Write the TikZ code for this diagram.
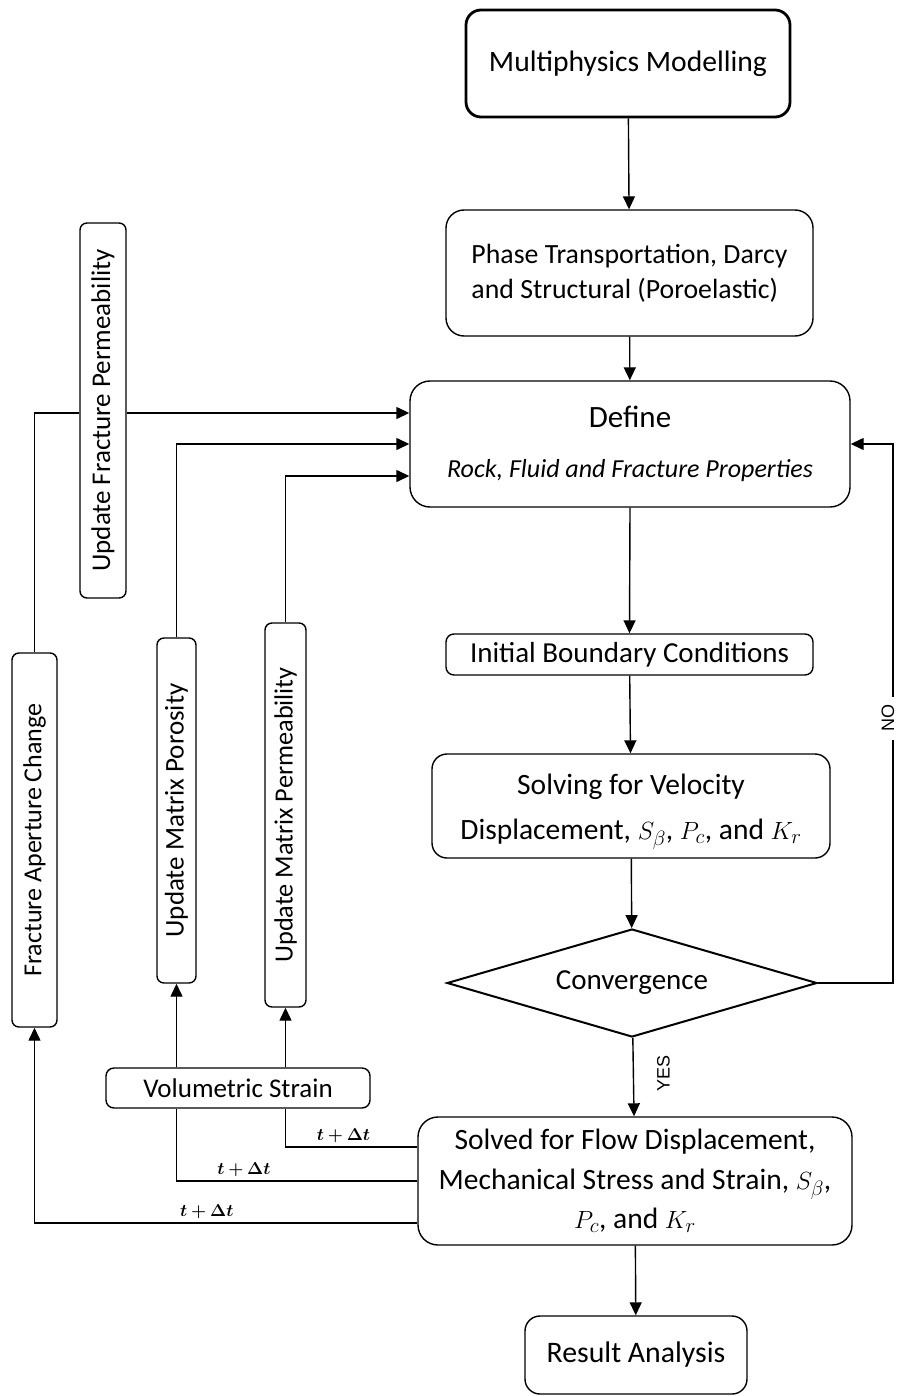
\documentclass[tikz,border=0pt]{standalone}
\usepackage{fontspec}
\setmainfont{Carlito}
\newfontfamily\arialfont{Liberation Sans}
\usepackage{bm}
\usetikzlibrary{arrows.meta,shapes.geometric,calc}
\begin{document}
\begin{tikzpicture}[x=1pt,y=-1pt,
  box/.style={draw, line width=1.4pt, align=center, inner sep=0pt, font=\fontsize{29.5}{34}\selectfont},
  vbox/.style={draw, line width=1.4pt, rounded corners=7pt, inner sep=0pt},
  vlab/.style={rotate=90, inner sep=0pt, font=\fontsize{27}{30}\selectfont},
  arr/.style={-{Triangle[length=13pt,width=12pt]}, line width=1.4pt},
  conn/.style={line width=1.4pt},
  tlab/.style={above, inner sep=4pt, font=\fontsize{18}{20}\selectfont},
  yn/.style={rotate=90, font=\arialfont\fontsize{18}{20}\selectfont}]
\useasboundingbox (0,0) rectangle (899,1396);

% main column
\node[box, line width=2.8pt, rounded corners=15pt, minimum width=324pt, minimum height=107pt, font=\fontsize{29.6}{34}\selectfont] (mm) at (628,63.5) {Multiphysics Modelling};
\node[box, rounded corners=18pt, minimum width=367pt, minimum height=126pt, align=left, font=\fontsize{27.8}{35}\selectfont] (pt) at (629.5,273) {Phase Transportation, Darcy\\and Structural (Poroelastic)};
\node[box, rounded corners=20pt, minimum width=440pt, minimum height=126pt, font=\fontsize{31}{34}\selectfont] (def) at (630,444) {Define\\[16pt]{\fontsize{26}{30}\selectfont\itshape Rock, Fluid and Fracture Properties}};
\node[box, rounded corners=8pt, minimum width=367pt, minimum height=41pt, font=\fontsize{29}{34}\selectfont] (ibc) at (629.5,654.5) {Initial Boundary Conditions};
\node[box, rounded corners=15pt, minimum width=398pt, minimum height=104pt, font=\fontsize{30}{45}\selectfont,
  label={[align=center, font=\fontsize{29.5}{45}\selectfont, yshift=-6pt]center:Solving for Velocity\\Displacement, $S_\beta$, $P_c$, and $K_r$}] (sol) at (631,806) {};
\node[draw, diamond, line width=2pt, minimum width=370pt, minimum height=108pt, aspect=3.4, inner sep=0pt, font=\fontsize{29}{34}\selectfont] (conv) at (632,983) {Convergence};
\node[box, rounded corners=20pt, minimum width=434pt, minimum height=128pt, font=\fontsize{29.5}{39.5}\selectfont] (sfd) at (635,1181) {Solved for Flow Displacement,\\Mechanical Stress and Strain, $S_\beta$,\\$P_c$, and $K_r$};
\node[box, rounded corners=15pt, minimum width=222pt, minimum height=78pt, font=\fontsize{29.8}{34}\selectfont] (ra) at (636,1355) {Result Analysis};

% left column
\node[vbox, minimum width=46pt, minimum height=375pt, label={[vlab]center:Update Fracture Permeability}] (ufp) at (103,410.5) {};
\node[vbox, minimum width=45pt, minimum height=374pt, label={[vlab, font=\fontsize{26}{30}\selectfont]center:Fracture Aperture Change}] (fac) at (34.5,840) {};
\node[vbox, minimum width=39pt, minimum height=345pt, label={[vlab]center:Update Matrix Porosity}] (ump) at (176.5,810.5) {};
\node[vbox, minimum width=41pt, minimum height=384pt, label={[vlab, font=\fontsize{26.3}{30}\selectfont]center:Update Matrix Permeability}] (umpe) at (285.5,815) {};
\node[box, rounded corners=8pt, minimum width=264pt, minimum height=40pt, font=\fontsize{27}{30}\selectfont] (vs) at (238,1088) {Volumetric Strain};

% main flow
\draw[arr] (mm) -- (pt);
\draw[arr] (pt) -- (def);
\draw[arr] (def.south) -- (ibc.north);
\draw[arr] (ibc) -- (sol);
\draw[arr] (sol) -- (conv);
\draw[arr] (conv) -- (sfd);
\node[yn] (yes) at ($(conv.south)!0.45!(sfd.north)+(30,0)$) {YES};
\draw[arr] (sfd) -- (ra);

% NO loop
\coordinate (noc) at (893,983);
\draw[arr] (conv.east) -- (noc) |- (def.east);
\node[yn, fill=white, inner sep=8pt] (no) at (888,718) {NO};

% feedback into Define
\coordinate (r1) at ([yshift=31pt]def.west);
\draw[conn] (fac.north) |- (ufp.west |- r1);
\draw[arr] (ufp.east |- r1) -- (r1);
\draw[arr] (ump.north) |- (def.west);
\draw[arr] (umpe.north) |- ([yshift=-32pt]def.west);

% volumetric strain to updates
\draw[arr] (vs.north -| ump.south) -- (ump.south);
\draw[arr] (vs.north -| umpe.south) -- (umpe.south);

% t + dt lines from solved box
\coordinate (s1) at ([yshift=34pt]sfd.west);
\coordinate (s2) at (sfd.west);
\coordinate (s3) at ([yshift=-42pt]sfd.west);
\draw[conn] (s1) -- node[tlab, pos=0.56] {$\bm{t+\Delta t}$} (s1 -| umpe.south) -- (vs.south -| umpe.south);
\draw[conn] (s2) -- node[tlab, pos=0.72] {$\bm{t+\Delta t}$} (s2 -| ump.south) -- (vs.south -| ump.south);
\draw[arr] (s3) -- node[tlab, pos=0.55] {$\bm{t+\Delta t}$} (s3 -| fac.south) -- (fac.south);
\end{tikzpicture}
\end{document}
